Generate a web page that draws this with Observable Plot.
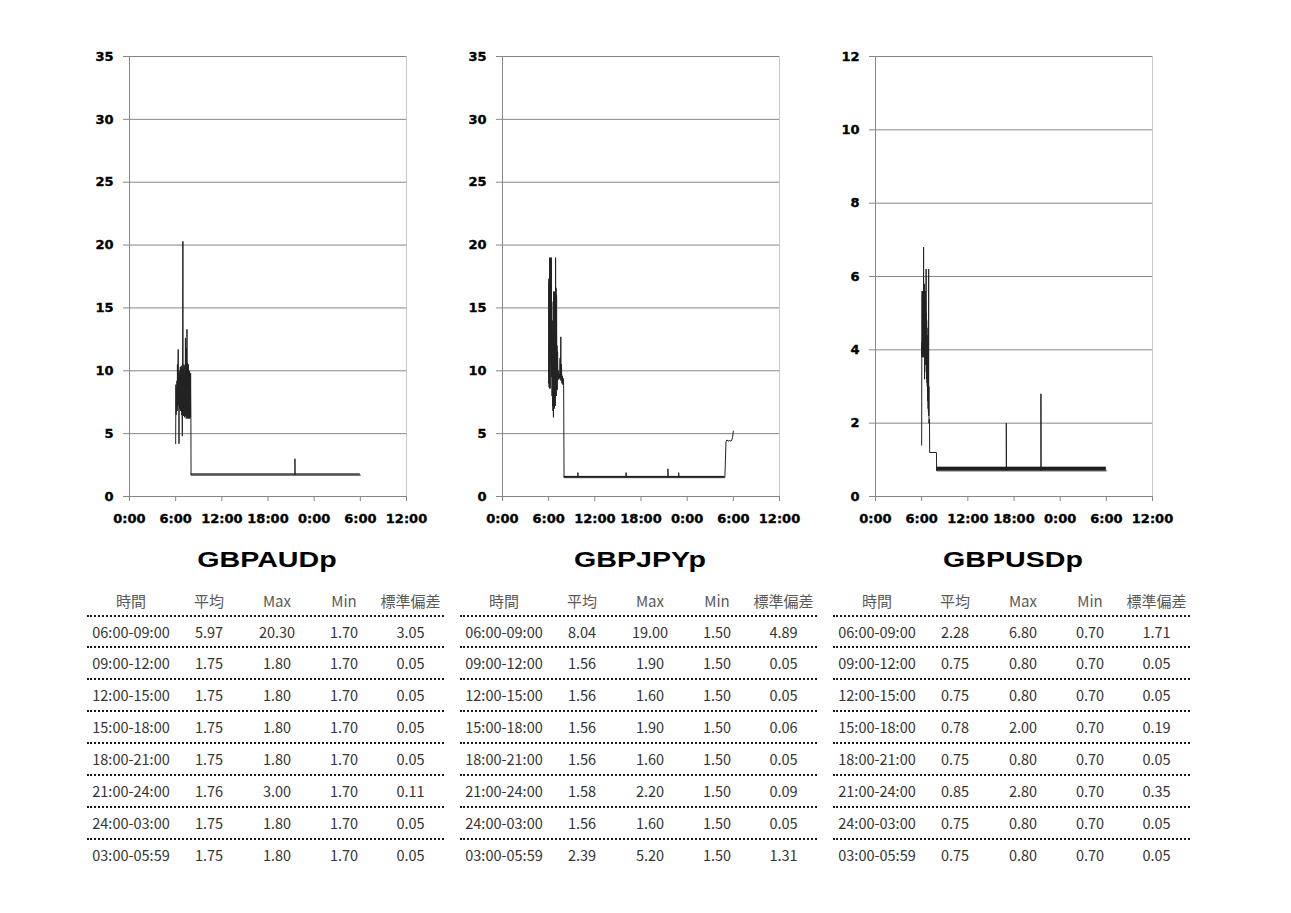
<!DOCTYPE html>
<html><head><meta charset="utf-8">
<script src="https://cdn.jsdelivr.net/npm/d3@7"></script>
<script src="https://cdn.jsdelivr.net/npm/@observablehq/plot@0.6"></script>
<style>
html,body{margin:0;padding:0;background:#fff}
body{width:1291px;height:913px;position:relative;overflow:hidden}
.chart{position:absolute;top:40px}
.chart svg{overflow:visible;background:transparent;font-family:"DejaVu Sans",sans-serif !important;font-size:13px !important;font-weight:bold !important}
.chart svg text{font-family:"DejaVu Sans",sans-serif !important;font-size:13px !important;font-weight:bold !important}
.chart svg g[aria-label$="tick label"] text{stroke:#000;stroke-width:0.35px}
.title{position:absolute;top:550px;width:220px;text-align:center;font-family:"Liberation Sans",Arial,sans-serif;font-weight:bold;font-size:21.5px;line-height:21px;color:#000;transform:scaleX(1.33);transform-origin:center}
.tbl{position:absolute;top:587px;width:357px;font-family:"Noto Sans CJK JP","Noto Sans",sans-serif;color:#333}
.row{display:flex;box-sizing:border-box}
.row.head{height:27.5px;line-height:27px;font-size:15px;color:#595959}
.row.data{height:31.9px;line-height:29.9px;border-top:2px dotted #1a1a1a;font-size:14.5px}
.cell{text-align:center;white-space:nowrap}
</style></head><body>
<script>
// ---- axis ticks ----
const xTickValues = [0, 6, 12, 18, 24, 30, 36];
const xTickLabels = ["0:00", "6:00", "12:00", "18:00", "0:00", "6:00", "12:00"];
const yTicks35 = [0, 5, 10, 15, 20, 25, 30, 35];
const yTicks12 = [0, 2, 4, 6, 8, 10, 12];

// ---- symbols ----
const symbols = ["GBPAUDp", "GBPJPYp", "GBPUSDp"];

// ---- spread series: [hour, spread] ----
const audSeries = [
  [6.00,4.2],[6.03,8.9],[6.06,6.5],[6.10,8.6],[6.13,7.0],[6.17,9.2],[6.20,6.8],[6.23,10.5],
  [6.27,7.2],[6.30,10.2],[6.33,11.7],[6.37,7.3],[6.40,9.8],[6.43,4.2],[6.47,9.5],[6.50,7.0],
  [6.53,10.0],[6.57,7.4],[6.60,10.3],[6.63,6.8],[6.67,9.6],[6.70,7.2],[6.73,10.4],[6.77,6.5],
  [6.80,10.2],[6.83,7.0],[6.87,4.8],[6.90,9.9],[6.94,20.3],[6.97,6.8],[7.00,10.1],[7.03,6.4],
  [7.07,10.5],[7.10,6.6],[7.13,9.8],[7.17,6.3],[7.20,10.4],[7.23,6.5],[7.27,12.6],[7.30,6.4],
  [7.33,10.2],[7.37,6.2],[7.40,11.8],[7.43,6.5],[7.47,13.3],[7.50,6.3],[7.53,10.6],[7.57,6.2],
  [7.60,10.3],[7.63,6.4],[7.67,10.5],[7.70,6.2],[7.73,9.9],[7.77,6.3],[7.80,10.0],[7.83,6.2],
  [7.87,9.8],[7.90,6.3],[7.94,9.8],[7.98,6.3],[8.00,1.7],
  [21.50,1.7],[21.50,3.0],[21.52,1.7],[30.00,1.7]
];
const jpySeries = [
  [6.00,17.3],[6.02,9.0],[6.04,17.0],[6.06,8.7],[6.09,16.5],[6.11,8.6],[6.13,19.0],[6.16,12.0],
  [6.18,17.5],[6.20,8.6],[6.22,19.0],[6.25,11.0],[6.28,18.1],[6.31,10.5],[6.35,19.0],[6.38,9.5],
  [6.41,15.5],[6.44,8.0],[6.47,14.0],[6.50,7.2],[6.53,13.0],[6.56,6.8],[6.59,12.5],[6.62,6.3],
  [6.65,16.3],[6.68,7.5],[6.71,15.8],[6.74,7.0],[6.77,16.3],[6.80,8.0],[6.83,15.0],[6.86,7.2],
  [6.90,19.0],[6.93,9.5],[6.96,16.6],[7.00,8.0],[7.03,16.0],[7.06,9.5],[7.09,12.0],[7.12,8.5],
  [7.16,11.5],[7.20,9.8],[7.25,10.0],[7.30,9.3],[7.36,9.8],[7.42,9.4],[7.48,11.0],[7.52,9.3],
  [7.58,12.7],[7.62,9.2],[7.66,10.5],[7.72,9.0],[7.78,9.6],[7.84,8.9],[7.90,9.4],[7.95,8.8],
  [8.00,1.5],
  [9.80,1.5],[9.80,1.9],[9.82,1.5],[16.06,1.5],[16.06,1.9],[16.08,1.5],
  [21.50,1.5],[21.50,2.2],[21.52,1.5],[22.90,1.5],[22.90,1.9],[22.92,1.5],
  [28.90,1.5],[29.05,4.4],[29.20,4.5],[29.30,4.4],[29.50,4.45],[29.70,4.4],[29.80,4.5],[29.90,4.7],[30.00,5.2]
];
const usdSeries = [
  [6.00,1.4],[6.02,4.2],[6.04,3.8],[6.06,5.6],[6.07,3.9],[6.09,5.5],[6.10,3.8],[6.12,5.6],
  [6.13,3.9],[6.15,5.6],[6.16,3.8],[6.18,5.5],[6.19,3.9],[6.21,5.6],[6.23,4.0],[6.25,6.8],
  [6.26,3.9],[6.28,5.7],[6.29,3.8],[6.31,5.6],[6.32,3.9],[6.34,5.8],[6.35,3.8],[6.37,5.6],
  [6.38,3.2],[6.40,5.6],[6.41,3.9],[6.43,5.5],[6.44,3.8],[6.46,5.6],[6.47,3.7],[6.49,5.5],
  [6.50,3.6],[6.52,5.3],[6.53,3.6],[6.55,5.2],[6.58,6.2],[6.60,3.4],[6.62,5.0],[6.63,3.4],
  [6.65,4.8],[6.67,3.2],[6.69,4.6],[6.70,3.1],[6.72,4.4],[6.73,3.0],[6.75,4.2],[6.77,2.8],
  [6.79,4.0],[6.80,2.6],[6.82,3.8],[6.84,2.4],[6.86,3.5],[6.88,2.3],[6.91,6.2],[6.92,2.2],
  [6.94,3.0],[6.96,2.0],[6.98,2.1],[7.00,2.0],[7.02,2.1],[7.04,1.2],[7.92,1.2],[7.95,0.7],
  [17.00,0.7],[17.00,2.0],[17.02,0.7],[21.50,0.7],[21.50,2.8],[21.52,0.7],[30.00,0.7]
];
// quiet periods where the spread flickers between two levels
const audBand = [{from: 8.00, to: 30.00, lo: 1.7, hi: 1.8}];
const jpyBand = [{from: 8.00, to: 28.90, lo: 1.5, hi: 1.6}];
const usdBand = [{from: 7.95, to: 30.00, lo: 0.7, hi: 0.8}];

// ---- statistics tables ----
const headers = ["時間", "平均", "Max", "Min", "標準偏差"];
const periods = ["06:00-09:00","09:00-12:00","12:00-15:00","15:00-18:00","18:00-21:00","21:00-24:00","24:00-03:00","03:00-05:59"];
const audMean = [5.97,1.75,1.75,1.75,1.75,1.76,1.75,1.75];
const audMax  = [20.30,1.80,1.80,1.80,1.80,3.00,1.80,1.80];
const audMin  = [1.70,1.70,1.70,1.70,1.70,1.70,1.70,1.70];
const audSd   = [3.05,0.05,0.05,0.05,0.05,0.11,0.05,0.05];
const jpyMean = [8.04,1.56,1.56,1.56,1.56,1.58,1.56,2.39];
const jpyMax  = [19.00,1.90,1.60,1.90,1.60,2.20,1.60,5.20];
const jpyMin  = [1.50,1.50,1.50,1.50,1.50,1.50,1.50,1.50];
const jpySd   = [4.89,0.05,0.05,0.06,0.05,0.09,0.05,1.31];
const usdMean = [2.28,0.75,0.75,0.78,0.75,0.85,0.75,0.75];
const usdMax  = [6.80,0.80,0.80,2.00,0.80,2.80,0.80,0.80];
const usdMin  = [0.70,0.70,0.70,0.70,0.70,0.70,0.70,0.70];
const usdSd   = [1.71,0.05,0.05,0.19,0.05,0.35,0.05,0.05];

// ---- build ----
const panels = [
  {series: audSeries, band: audBand, yDomain: [0, 35], yTicks: yTicks35, stats: [audMean, audMax, audMin, audSd]},
  {series: jpySeries, band: jpyBand, yDomain: [0, 35], yTicks: yTicks35, stats: [jpyMean, jpyMax, jpyMin, jpySd]},
  {series: usdSeries, band: usdBand, yDomain: [0, 12], yTicks: yTicks12, stats: [usdMean, usdMax, usdMin, usdSd]}
];
const chartLefts = [79, 452, 825];
const tableLefts = [87, 460, 833];
const colWidths = [88, 68, 68, 66, 67];

function makeChart(p) {
  const data = p.series.map(([t, v]) => ({t, v}));
  return Plot.plot({
    width: 357, height: 500,
    marginLeft: 50, marginRight: 30, marginTop: 16, marginBottom: 44,
    style: {fontFamily: "DejaVu Sans", fontSize: "13px", fontWeight: "bold", color: "#000", background: "transparent", overflow: "visible"},
    x: {domain: [0, 36]},
    y: {domain: p.yDomain},
    marks: [
      Plot.gridY(p.yTicks, {stroke: "#868686", strokeOpacity: 1}),
      Plot.ruleX([36], {stroke: "#c8c8c8"}),
      Plot.ruleX([0], {stroke: "#868686"}),
      Plot.axisY({ticks: p.yTicks, tickSize: 6, tickPadding: 10, stroke: "#868686", fill: "#000", label: null, fontSize: 13}),
      Plot.axisX({ticks: xTickValues, tickFormat: d => xTickLabels[xTickValues.indexOf(d)], tickSize: 5, tickPadding: 12, stroke: "#868686", fill: "#000", label: null, fontSize: 13}),
      Plot.rect(p.band, {x1: "from", x2: "to", y1: "lo", y2: "hi", fill: "#1e1e1e"}),
      Plot.line(data, {x: "t", y: "v", stroke: "#222", strokeWidth: 1})
    ]
  });
}

panels.forEach((p, k) => {
  const wrap = document.createElement("div");
  wrap.className = "chart";
  wrap.style.left = chartLefts[k] + "px";
  wrap.appendChild(makeChart(p));
  document.body.appendChild(wrap);

  const title = document.createElement("div");
  title.className = "title";
  title.textContent = symbols[k];
  title.style.left = (chartLefts[k] + 50 + 138 - 110) + "px";
  document.body.appendChild(title);

  const tbl = document.createElement("div");
  tbl.className = "tbl";
  tbl.style.left = tableLefts[k] + "px";
  const head = document.createElement("div");
  head.className = "row head";
  headers.forEach((h, j) => {
    const c = document.createElement("div");
    c.className = "cell"; c.style.width = colWidths[j] + "px"; c.textContent = h;
    head.appendChild(c);
  });
  tbl.appendChild(head);
  periods.forEach((per, i) => {
    const r = document.createElement("div");
    r.className = "row data";
    const vals = [per, ...p.stats.map(a => a[i].toFixed(2))];
    vals.forEach((v, j) => {
      const c = document.createElement("div");
      c.className = "cell"; c.style.width = colWidths[j] + "px"; c.textContent = v;
      r.appendChild(c);
    });
    tbl.appendChild(r);
  });
  document.body.appendChild(tbl);
});
</script>
</body></html>
